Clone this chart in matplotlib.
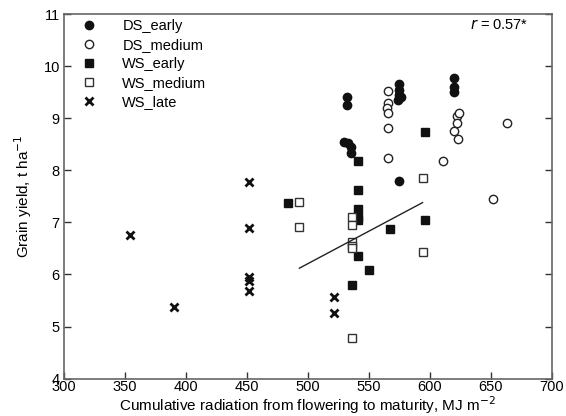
import matplotlib
matplotlib.use("Agg")
import matplotlib.pyplot as plt

plt.rcParams['font.family'] = ['Liberation Sans', 'DejaVu Sans']

# ================= DATA =================
ds_early_x = [532, 532, 530, 533, 535, 535, 575, 575, 575, 576, 574, 575, 620, 620, 620]
ds_early_y = [9.40, 9.25, 8.55, 8.52, 8.45, 8.33, 9.65, 9.55, 9.45, 9.40, 9.35, 7.80, 9.78, 9.60, 9.50]

ds_medium_x = [566, 566, 565, 566, 566, 566, 611, 622, 624, 620, 622, 623, 652, 663]
ds_medium_y = [9.52, 9.30, 9.20, 9.10, 8.82, 8.23, 8.17, 9.05, 9.10, 8.75, 8.90, 8.60, 7.45, 8.90]

ws_early_x = [484, 541, 541, 541, 541, 541, 541, 536, 550, 567, 596, 596]
ws_early_y = [7.37, 8.18, 7.63, 7.25, 7.10, 7.05, 6.35, 5.80, 6.08, 6.88, 8.73, 7.05]

ws_medium_x = [493, 493, 536, 536, 536, 536, 536, 536, 594, 594]
ws_medium_y = [7.40, 6.92, 7.10, 6.95, 6.62, 6.55, 6.50, 4.78, 7.85, 6.43]

ws_late_x = [354, 390, 452, 452, 452, 452, 452, 521, 521]
ws_late_y = [6.76, 5.38, 7.77, 6.90, 5.95, 5.88, 5.68, 5.57, 5.26]

# regression line
fit_x = [493, 594]
fit_y = [6.12, 7.38]

xticks = [300, 350, 400, 450, 500, 550, 600, 650, 700]
yticks = [4, 5, 6, 7, 8, 9, 10, 11]

# ================= PLOT =================
fig = plt.figure(figsize=(5.66, 4.16), dpi=100)
ax = fig.add_axes([0.113, 0.09, 0.862, 0.876])

ms = 6
ax.plot(ds_early_x, ds_early_y, 'o', color='#111111', ms=ms, ls='none', label='DS_early')
ax.plot(ds_medium_x, ds_medium_y, 'o', mfc='white', mec='#222222', mew=1.0, ms=ms, ls='none', label='DS_medium')
ax.plot(ws_early_x, ws_early_y, 's', color='#111111', ms=ms, ls='none', label='WS_early')
ax.plot(ws_medium_x, ws_medium_y, 's', mfc='white', mec='#333333', mew=1.0, ms=ms, ls='none', label='WS_medium')
ax.plot(ws_late_x, ws_late_y, 'x', color='#111111', mew=2.0, ms=ms, ls='none', label='WS_late')
ax.plot(fit_x, fit_y, '-', color='#222222', lw=1.0)

ax.set_xlim(300, 700)
ax.set_ylim(4, 11)
ax.set_xticks(xticks)
ax.set_yticks(yticks)

for s in ax.spines.values():
    s.set_color('#666666')
    s.set_linewidth(1.2)

ax.tick_params(direction='in', length=5, width=1, color='#333333', labelsize=10.5,
               right=True, top=False)
ax.tick_params(axis='x', pad=1)
ax.tick_params(axis='y', pad=3)

ax.set_xlabel('Cumulative radiation from flowering to maturity, MJ m$^{-2}$', fontsize=11, labelpad=0)
ax.set_ylabel('Grain yield, t ha$^{-1}$', fontsize=11, labelpad=7)

ax.text(0.951, 0.99, '$r$ = 0.57*', transform=ax.transAxes, ha='right', va='top', fontsize=10.5)

leg = ax.legend(loc='upper left', frameon=False, fontsize=10.5, handletextpad=1.3,
                labelspacing=0.35, borderaxespad=0.3, bbox_to_anchor=(0.0, 1.015))

fig.savefig('out.png', dpi=100)
